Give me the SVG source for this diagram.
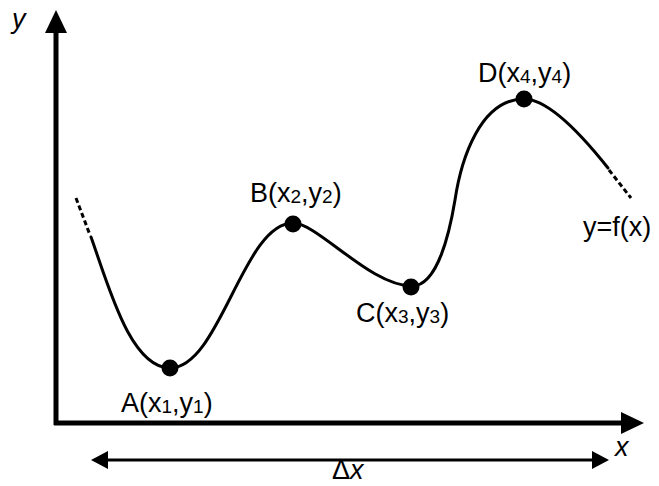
<svg xmlns="http://www.w3.org/2000/svg" width="659" height="486" viewBox="0 0 659 486">
<style>
  .lbl{font-family:"Liberation Sans",Arial,sans-serif;font-size:27px;fill:#000}
  .sub{font-size:19px}
  .it{font-style:italic}
  .axis{stroke:#000;stroke-width:5;fill:none}
  .curve{stroke:#000;stroke-width:3;fill:none;stroke-linecap:round}
  .dash{stroke:#000;stroke-width:3;fill:none;stroke-dasharray:5 3}
  .dot{fill:#000}
</style>
<rect width="659" height="486" fill="#fff"/>
<g id="connectors">
  <g id="y-axis">
    <line class="axis" x1="56" y1="425" x2="56" y2="30"/>
    <polygon points="56,10 67,33 45,33" fill="#000"/>
  </g>
  <g id="x-axis">
    <line class="axis" x1="54" y1="423" x2="624" y2="423"/>
    <polygon points="644,423 621,412 621,434" fill="#000"/>
  </g>
  <g id="delta-x">
    <line x1="104" y1="460" x2="595" y2="460" stroke="#000" stroke-width="3"/>
    <polygon points="91,460 108,451 108,469" fill="#000"/>
    <polygon points="609,460 592,451 592,469" fill="#000"/>
  </g>
  <g id="curve">
    <path class="dash" d="M76,198 L90,235"/>
    <path class="curve" d="M91,237 C108,284 130,368 170,368 C220,368 243,223 293,223 C318,223 370,286 412,286 C438,286 450,230 455,200 C461,160 480,99 524,99 C550,99 585,139 608,168"/>
    <path class="dash" d="M609,170 L631,198"/>
  </g>
</g>
<g id="node-A">
  <circle class="dot" cx="170" cy="368" r="8.5"/>
  <text class="lbl" x="121" y="412">A(x<tspan class="sub" dy="1">1</tspan><tspan dy="-1">,y</tspan><tspan class="sub" dy="1">1</tspan><tspan dy="-1">)</tspan></text>
</g>
<g id="node-B">
  <circle class="dot" cx="293" cy="224" r="8.5"/>
  <text class="lbl" x="250" y="202">B(x<tspan class="sub" dy="1">2</tspan><tspan dy="-1">,y</tspan><tspan class="sub" dy="1">2</tspan><tspan dy="-1">)</tspan></text>
</g>
<g id="node-C">
  <circle class="dot" cx="411" cy="287" r="8.5"/>
  <text class="lbl" x="356" y="322">C(x<tspan class="sub" dy="1">3</tspan><tspan dy="-1">,y</tspan><tspan class="sub" dy="1">3</tspan><tspan dy="-1">)</tspan></text>
</g>
<g id="node-D">
  <circle class="dot" cx="524" cy="99" r="8.5"/>
  <text class="lbl" x="478" y="82">D(x<tspan class="sub" dy="1">4</tspan><tspan dy="-1">,y</tspan><tspan class="sub" dy="1">4</tspan><tspan dy="-1">)</tspan></text>
</g>
<g id="label-f">
  <text class="lbl" x="583" y="236">y=f(x)</text>
</g>
<g id="label-y"><text class="lbl it" x="12" y="28">y</text></g>
<g id="label-x"><text class="lbl it" x="615" y="456">x</text></g>
<g id="label-dx"><text class="lbl" x="332" y="479">Δ<tspan class="it">x</tspan></text></g>
</svg>
